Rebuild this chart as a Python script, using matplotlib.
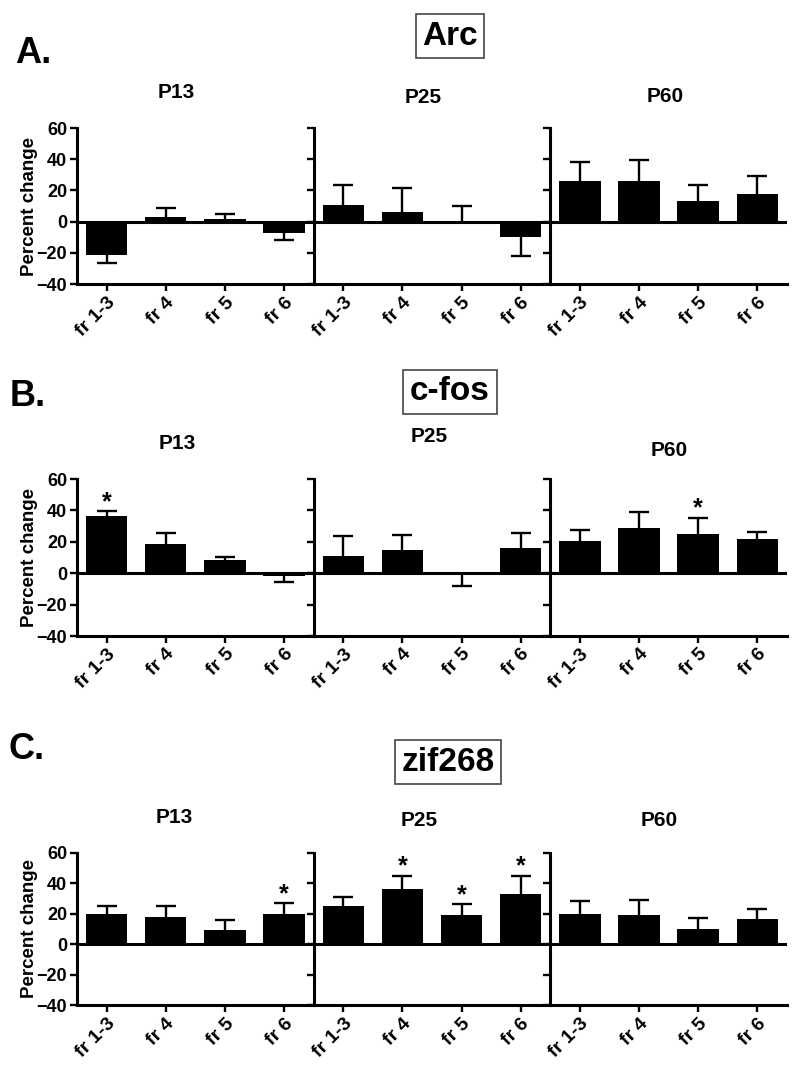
import numpy as np
import matplotlib.pyplot as plt

plt.rcParams['font.family'] = ['Liberation Sans', 'DejaVu Sans']
plt.rcParams['font.weight'] = 'bold'

# fraction labels and ages
labels = ['fr 1-3', 'fr 4', 'fr 5', 'fr 6']
ages = ['P13', 'P25', 'P60']

# Arc: bar means and error bar tips (percent change), one row per age
arc_mean = [[-21.5, 3.0, 1.5, -7.0], [10.4, 6.4, 0.0, -9.6], [26.0, 26.0, 13.0, 17.4]]
arc_tip = [[-26.5, 8.5, 4.7, -12.0], [23.4, 21.7, 9.8, -22.0], [38.5, 39.4, 23.2, 29.4]]
arc_star = [[0, 0, 0, 0], [0, 0, 0, 0], [0, 0, 0, 0]]

# c-fos
cfos_mean = [[36.2, 18.7, 8.5, -1.9], [11.0, 15.0, 0.0, 16.0], [20.4, 28.7, 25.3, 21.7]]
cfos_tip = [[39.4, 25.5, 10.6, -5.5], [23.8, 24.3, -8.3, 25.5], [27.4, 38.9, 35.1, 26.0]]
cfos_star = [[1, 0, 0, 0], [0, 0, 0, 0], [0, 0, 1, 0]]

# zif268
zif_mean = [[19.8, 18.0, 9.5, 20.0], [24.8, 36.0, 19.2, 32.8], [19.9, 19.0, 10.2, 16.4]]
zif_tip = [[25.0, 25.3, 15.8, 27.0], [30.9, 45.0, 26.3, 45.0], [28.7, 29.2, 17.3, 22.9]]
zif_star = [[0, 0, 0, 1], [0, 1, 1, 1], [0, 0, 0, 0]]

fig = plt.figure(figsize=(8, 10.65), dpi=100)

left = 0.09625
w = 0.2958


def panel(bottom, h, means, tips, stars):
    x = np.arange(len(labels))
    for i in range(3):
        ax = fig.add_axes([left + i * w, bottom, w, h])
        m = np.array(means[i])
        t = np.array(tips[i])
        ax.bar(x, m, width=0.7, color='k', zorder=2)
        lo = np.clip(m - t, 0, None)
        hi = np.clip(t - m, 0, None)
        # stem from bar end to tip, cap only at the tip
        ax.errorbar(x, m, yerr=[lo, hi], fmt='none', ecolor='k',
                    elinewidth=1.7, capsize=0, zorder=3)
        ax.plot(x, t, ls='none', marker='_', ms=14.4, mew=1.7, color='k', zorder=3)
        for j in range(len(labels)):
            if stars[i][j]:
                ax.text(x[j], t[j] + 1.5, '*', ha='center', va='baseline',
                        fontsize=18, fontweight='bold')
        ax.axhline(0, color='k', lw=2.2, zorder=4)
        ax.set_xlim(-0.5, 3.5)
        ax.set_ylim(-40, 60)
        ax.set_yticks([-40, -20, 0, 20, 40, 60])
        ax.set_xticks(x)
        ax.set_xticklabels(labels, rotation=45, ha='right',
                           rotation_mode='anchor', fontsize=14)
        for s in ['top', 'right']:
            ax.spines[s].set_visible(False)
        for s in ['left', 'bottom']:
            ax.spines[s].set_linewidth(2.2)
        ax.tick_params(width=1.7, length=5, pad=2)
        ax.tick_params(axis='y', labelsize=13)
        ax.patch.set_alpha(0)
        if i == 0:
            ax.set_ylabel('Percent change', fontsize=13.5, fontweight='bold')
            ax.yaxis.set_label_coords(-0.165, 0.5)
        else:
            ax.set_yticklabels([])


panel(0.7333, 0.1465, arc_mean, arc_tip, arc_star)
panel(0.4028, 0.1474, cfos_mean, cfos_tip, cfos_star)
panel(0.0563, 0.1428, zif_mean, zif_tip, zif_star)

box = dict(boxstyle='square,pad=0.2', fc='white', ec='#444444', lw=1.2)

# panel letters and gene names
fig.text(0.041, 0.950, 'A.', fontsize=26, ha='center', va='center')
fig.text(0.5625, 0.966, 'Arc', fontsize=24, ha='center', va='center', bbox=box)
fig.text(0.035, 0.628, 'B.', fontsize=26, ha='center', va='center')
fig.text(0.5625, 0.632, 'c-fos', fontsize=24, ha='center', va='center', bbox=box)
fig.text(0.033, 0.296, 'C.', fontsize=26, ha='center', va='center')
fig.text(0.56, 0.2845, 'zif268', fontsize=24, ha='center', va='center', bbox=box)

# age titles
for xs, ys in [([0.22, 0.529, 0.831], [0.9136, 0.908, 0.909]),
               ([0.221, 0.537, 0.836], [0.584, 0.590, 0.577]),
               ([0.218, 0.524, 0.824], [0.232, 0.230, 0.230])]:
    for a, xx, yy in zip(ages, xs, ys):
        fig.text(xx, yy, a, fontsize=15, ha='center', va='center')

fig.savefig('out.png', dpi=100)
